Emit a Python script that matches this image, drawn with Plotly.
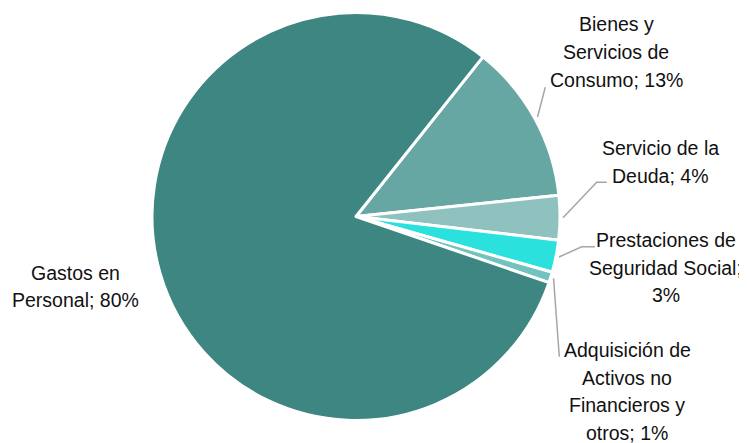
import math
import plotly.graph_objects as go

# ---- data ----
categories = [
    "Bienes y Servicios de Consumo",
    "Servicio de la Deuda",
    "Prestaciones de Seguridad Social",
    "Adquisición de Activos no Financieros y otros",
    "Gastos en Personal",
]
values = [12.65, 3.51, 2.55, 0.85, 80.44]
label_lines = [
    ["Bienes y", "Servicios de", "Consumo; {p}%"],
    ["Servicio de la", "Deuda; {p}%"],
    ["Prestaciones de", "Seguridad Social;", "{p}%"],
    ["Adquisición de", "Activos no", "Financieros y", "otros; {p}%"],
    ["Gastos en", "Personal; {p}%"],
]
colors = ["#66A6A3", "#8FC2BF", "#2BE1DE", "#72C2C0", "#3E8682"]

# ---- layout geometry (window pixels) ----
W, H = 747, 443
OFF = 8  # page body margin
FW, FH = W - OFF, H - OFF
CX, CY, R = 356, 216.5, 204
ROT = 38.5
FONT = dict(family="Liberation Sans, Arial, sans-serif", size=19.5, color="#111111")
LINE_H = 27.5
label_centers = [(616, 52), (660, 162), (665.5, 267.5), (627, 391.5), (75, 286.5)]
leader_paths = [
    [(545.3, 87.3)],
    [(596.7, 182.3), (606.7, 182.3)],
    [(581.7, 246.7), (595, 246.7)],
    [(559.3, 356.7)],
    None,
]


def px(x):
    return (x - OFF) / FW


def py(y):
    return 1 - (y - OFF) / FH


fig = go.Figure(
    go.Pie(
        labels=categories,
        values=values,
        sort=False,
        direction="clockwise",
        rotation=ROT,
        marker=dict(colors=colors, line=dict(color="#FFFFFF", width=3)),
        textinfo="none",
        hoverinfo="label+percent",
        showlegend=False,
        domain=dict(x=[px(CX - R), px(CX + R)], y=[py(CY + R), py(CY - R)]),
    )
)

total = sum(values)
annotations = []
shapes = []
cum = 0.0
for i, v in enumerate(values):
    pct = round(v / total * 100)
    lines = [s.format(p=pct) for s in label_lines[i]]
    cx, cy = label_centers[i]
    n = len(lines)
    for k, line in enumerate(lines):
        yy = cy + (k - (n - 1) / 2) * LINE_H
        annotations.append(
            dict(
                x=px(cx), y=py(yy), xref="paper", yref="paper",
                text=line, showarrow=False, xanchor="center", yanchor="middle",
                font=FONT,
            )
        )
    mid = math.radians(ROT + (cum + v / 2) / total * 360)
    cum += v
    if leader_paths[i]:
        r0 = 207
        sx = CX + r0 * math.sin(mid)
        sy = CY - r0 * math.cos(mid)
        pts = [(sx, sy)] + leader_paths[i]
        path = "M " + " L ".join(f"{px(a):.5f},{py(b):.5f}" for a, b in pts)
        shapes.append(
            dict(type="path", path=path, xref="paper", yref="paper",
                 line=dict(color="#A6A6A6", width=1.5))
        )

fig.update_layout(
    width=FW, height=FH,
    margin=dict(l=0, r=0, t=0, b=0),
    paper_bgcolor="white", plot_bgcolor="white",
    annotations=annotations, shapes=shapes,
)

fig.write_html("out.html")
